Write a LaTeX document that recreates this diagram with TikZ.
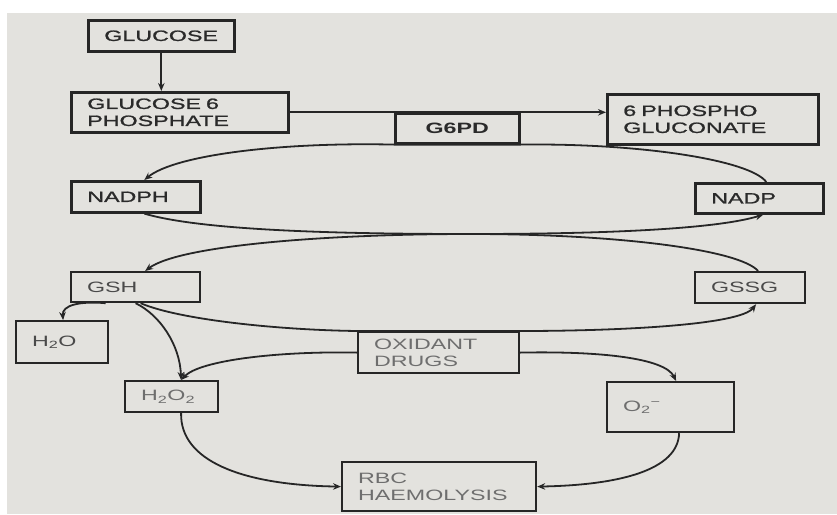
\documentclass[tikz,border=0pt]{standalone}
\usepackage{fontspec}
\setmainfont{Liberation Sans}[FakeStretch=1.55]
\newfontfamily\heavyfont{Liberation Sans}[FakeStretch=1.55, FakeBold=1.2]
\usetikzlibrary{arrows.meta}
\definecolor{bgc}{HTML}{E3E2DE}
\definecolor{ink}{HTML}{262626}
\definecolor{txtA}{HTML}{2A2A2A}
\definecolor{txtB}{HTML}{4A4A4A}
\definecolor{txtC}{HTML}{6E6E6E}
\tikzset{
  box/.style={draw=ink, line width=2.6pt, inner xsep=16pt, inner ysep=0pt, align=left, anchor=north west,
              font=\fontsize{15pt}{17pt}\selectfont\heavyfont, text=txtA},
  lbox/.style={box, line width=2.2pt, draw=ink, font=\fontsize{15pt}{17pt}\selectfont},
  arr/.style={draw=ink, line width=1.8pt, -{Stealth[length=8pt,width=6.5pt]}},
}
\begin{document}
\begin{tikzpicture}[x=1pt,y=1pt]
\useasboundingbox (0,0) rectangle (837,-514);
\fill[white] (0,0) rectangle (837,-514);
\fill[bgc] (7,-13) rectangle (837,-514);

% nodes
\node[box, minimum height=31pt, text width=114pt] (glucose) at (87,-19) {GLUCOSE};
\node[box, minimum height=40pt, text width=185pt] (g6p) at (70,-91) {GLUCOSE 6\\PHOSPHATE};
\node[box, minimum height=30pt, text width=92pt, align=center, font=\fontsize{15pt}{17pt}\selectfont\bfseries] (g6pd) at (394,-112) {G6PD};
\node[box, minimum height=50pt, text width=179pt] (sixpg) at (606,-93) {6 PHOSPHO\\GLUCONATE};
\node[box, minimum height=31pt, text width=97pt] (nadph) at (70,-180) {NADPH};
\node[box, minimum height=30pt, text width=96pt] (nadp) at (694,-182) {NADP};
\node[lbox, minimum height=30pt, text width=97pt, text=txtB] (gsh) at (70,-271) {GSH};
\node[lbox, minimum height=31pt, text width=78pt, text=txtB] (gssg) at (694,-271) {GSSG};
\node[lbox, minimum height=42pt, text width=60pt, text=txtB] (h2o) at (15,-320) {H\textsubscript{2}O};
\node[lbox, minimum height=41pt, text width=129pt, text=txtC] (oxid) at (357,-331) {OXIDANT\\DRUGS};
\node[lbox, minimum height=31pt, text width=61pt, text=txtC] (h2o2) at (124,-380) {H\textsubscript{2}O\textsubscript{2}};
\node[lbox, minimum height=50pt, text width=95pt, text=txtC] (otwo) at (606,-381) {O\textsubscript{2}\textsuperscript{−}};
\node[lbox, minimum height=49pt, text width=162pt, text=txtC] (rbc) at (341,-461) {RBC\\HAEMOLYSIS};

\coordinate (k1) at (470,-234);

% connectors
\draw[arr] (glucose.south) -- (glucose.south |- g6p.north);
\draw[arr] (g6p.east) -- (g6p.east -| sixpg.west);
\draw[arr] ([xshift=7pt]nadp.north) .. controls (750,-160) and (640,-143) .. (g6pd.south east)
           -- (g6pd.south west) .. controls (280,-142) and (175,-155) .. ([xshift=8.5pt]nadph.north);
\draw[arr] ([xshift=8.5pt]nadph.south) .. controls (200,-230) and (330,-234) .. (k1)
           .. controls (620,-234) and (720,-228) .. ([xshift=4pt]nadp.south);
\draw[arr] ([xshift=8pt]gssg.north) .. controls (740,-250) and (620,-234) .. (k1)
           .. controls (330,-234) and (180,-245) .. ([xshift=9.5pt]gsh.north);
\draw[arr] ([xshift=-30pt]gsh.south) .. controls (80,-301) and (62,-305) .. ([xshift=1pt]h2o.north);
\draw[arr] (gsh.south) .. controls (160,-315) and (180,-345) .. ([xshift=9.5pt]h2o2.north);
\draw[arr] ([xshift=5pt]gsh.south) .. controls (180,-320) and (280,-330) .. (oxid.north west)
           -- (oxid.north east) .. controls (620,-331) and (740,-325) .. ([xshift=6pt]gssg.south);
\draw[arr] (oxid.west) .. controls (280,-351) and (200,-360) .. ([xshift=9.5pt]h2o2.north);
\draw[arr] (oxid.east) .. controls (600,-351) and (665,-358) .. ([xshift=5.5pt]otwo.north);
\draw[arr] ([xshift=9.5pt]h2o2.south) .. controls (180,-460) and (240,-485) .. (rbc.west);
\draw[arr] ([xshift=8.5pt]otwo.south) .. controls (678,-470) and (620,-485) .. (rbc.east);
\end{tikzpicture}
\end{document}
